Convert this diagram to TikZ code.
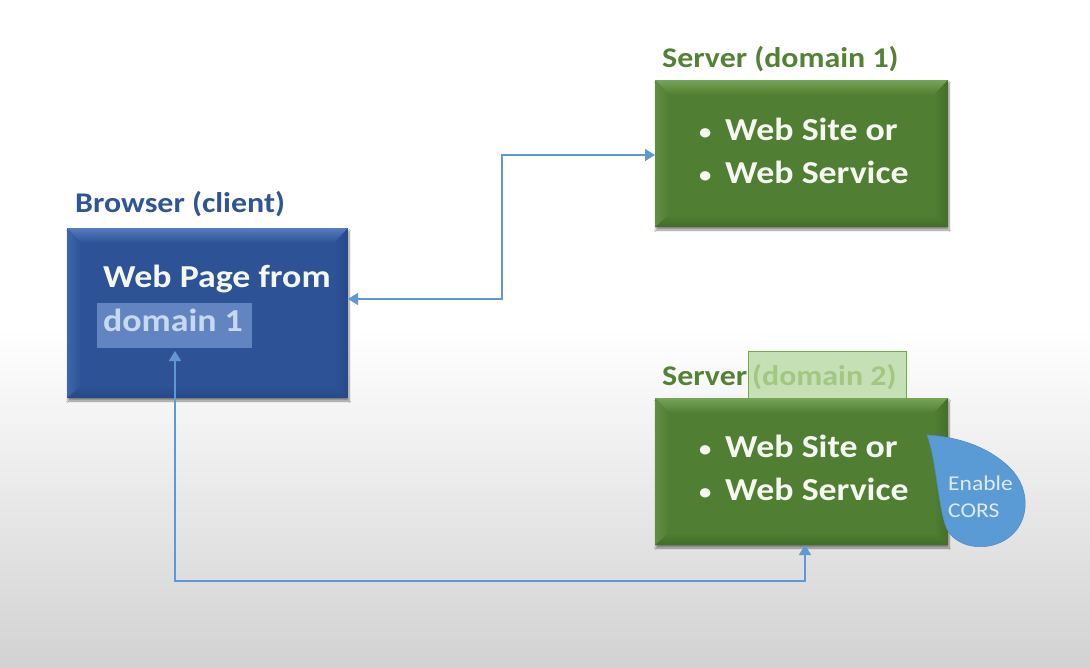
\documentclass[tikz,border=0pt]{standalone}
\usepackage{fontspec}
\setmainfont{Carlito}[FakeStretch=1.12]
\usetikzlibrary{arrows.meta,shadows.blur,calc}
\definecolor{bbody}{RGB}{45,83,150}
\definecolor{btop}{RGB}{86,124,190}
\definecolor{bleft}{RGB}{62,102,172}
\definecolor{bright}{RGB}{38,72,136}
\definecolor{bbot}{RGB}{38,72,134}
\definecolor{gbody}{RGB}{80,126,50}
\definecolor{gtop}{RGB}{120,163,88}
\definecolor{gleft}{RGB}{96,142,66}
\definecolor{gright}{RGB}{68,110,42}
\definecolor{gbot}{RGB}{66,108,40}
\definecolor{lblblue}{RGB}{47,85,151}
\definecolor{lblgreen}{RGB}{84,130,53}
\definecolor{arrowblue}{RGB}{96,152,212}
\definecolor{hlblue}{RGB}{98,133,193}
\definecolor{hltext}{RGB}{197,217,241}
\definecolor{hlgreen}{RGB}{197,224,180}
\definecolor{hlgreenline}{RGB}{112,173,71}
\definecolor{hlgreentext}{RGB}{160,200,130}
\definecolor{bubblefill}{RGB}{91,155,213}
\definecolor{bubbleline}{RGB}{80,140,200}
\definecolor{bubbletext}{RGB}{222,235,247}
\definecolor{boxtext}{RGB}{245,248,240}
% #1 node, #2 top, #3 left, #4 right, #5 bottom, #6 body
\newcommand\mybevel[6]{%
 \shade[top color=#2, bottom color=#6] (#1.north west) -- (#1.north east) -- ([shift={(-14,15)}]#1.north east) -- ([shift={(14,15)}]#1.north west) -- cycle;
 \shade[left color=#3, right color=#6] (#1.north west) -- ([shift={(14,15)}]#1.north west) -- ([shift={(14,-12)}]#1.south west) -- (#1.south west) -- cycle;
 \shade[left color=#6, right color=#4] (#1.north east) -- ([shift={(-14,15)}]#1.north east) -- ([shift={(-14,-12)}]#1.south east) -- (#1.south east) -- cycle;
 \shade[top color=#6, bottom color=#5] (#1.south west) -- ([shift={(14,-12)}]#1.south west) -- ([shift={(-14,-12)}]#1.south east) -- (#1.south east) -- cycle;
}
\newcommand\bul{\makebox[26pt][l]{\raisebox{1pt}{\fontsize{22}{22}\selectfont •}}}
\tikzset{
 box/.style={rectangle, inner sep=0pt, outer sep=0pt, blur shadow={shadow xshift=1pt, shadow yshift=-3pt, shadow blur steps=8, shadow opacity=45}},
 lbl/.style={font=\fontsize{28.5}{32}\selectfont\bfseries, inner sep=0pt, anchor=base west},
 big/.style={font=\fontsize{32}{36}\selectfont\bfseries, inner sep=0pt, anchor=base west, text=boxtext},
 small/.style={font=\fontsize{21}{24}\selectfont, text=bubbletext, inner sep=0pt, anchor=base west},
 arr/.style={draw=arrowblue, line width=1.6pt, {Triangle[width=12pt,length=10pt]}-{Triangle[width=12pt,length=10pt]}},
}
\begin{document}
\begin{tikzpicture}[x=1pt,y=-1pt]
\useasboundingbox (0,0) rectangle (1090,667);
\fill[white] (0,0) rectangle (1090,667);
\shade[top color=white, bottom color={rgb,255:red,210;green,210;blue,210}] (0,330) rectangle (1090,667);

% browser
\node[box, fill=bbody, minimum width=281pt, minimum height=170pt] (browser) at (207.5,313) {};
\mybevel{browser}{btop}{bleft}{bright}{bbot}{bbody}
\node[lbl, text=lblblue] (blabel) at (75,212) {Browser (client)};
\node[draw=none, fill=hlblue, minimum width=155pt, minimum height=45pt, inner sep=0pt] (hl1) at (174.5,325.5) {};
\node[big] (webpage) at (103,287) {Web Page from};
\node[big, text=hltext] (dom1) at (103,331) {domain 1};

% server 1
\node[box, fill=gbody, minimum width=293pt, minimum height=147pt] (srv1) at (801.5,153.5) {};
\mybevel{srv1}{gtop}{gleft}{gright}{gbot}{gbody}
\node[lbl, text=lblgreen] (s1label) at (662,67) {Server (domain 1)};
\node[big] (s1a) at (699,140) {\bul Web Site or};
\node[big] (s1b) at (699,183) {\bul Web Service};

% server 2
\node[draw=hlgreenline, line width=0.8pt, fill=hlgreen, minimum width=158pt, minimum height=48pt, inner sep=0pt] (hl2) at (827,375) {};
\node[box, fill=gbody, minimum width=293pt, minimum height=147pt] (srv2) at (801.5,471.5) {};
\mybevel{srv2}{gtop}{gleft}{gright}{gbot}{gbody}
\node[lbl, text=lblgreen] (s2label) at (662,385) {Server};
\node[lbl, text=hlgreentext] (s2dom) at (752,385) {(domain 2)};
\node[big] (s2a) at (699,457) {\bul Web Site or};
\node[big] (s2b) at (699,500) {\bul Web Service};

% bubble
\filldraw[fill=bubblefill, draw=bubbleline, line width=0.6pt] (927,435) .. controls (960,437) and (990,448) .. (1010,468) .. controls (1032,490) and (1030,525) .. (1005,540) .. controls (985,552) and (955,548) .. (946,527) .. controls (938,505) and (936,458) .. cycle;
\node[small] (en) at (948,490) {Enable};
\node[small] (cors) at (948,517) {CORS};

% connectors
\coordinate (k1) at (502,299);
\coordinate (k2) at (502,155);
\draw[arr] (k1 -| browser.east) -- (k1) -- (k2) -- (k2 -| srv1.west);
\coordinate (c1) at (175,351);
\coordinate (c2) at (175,581);
\coordinate (c3) at (805,581);
\draw[arr] (c1) -- (c2) -- (c3) -- (c3 |- srv2.south);
\end{tikzpicture}
\end{document}
